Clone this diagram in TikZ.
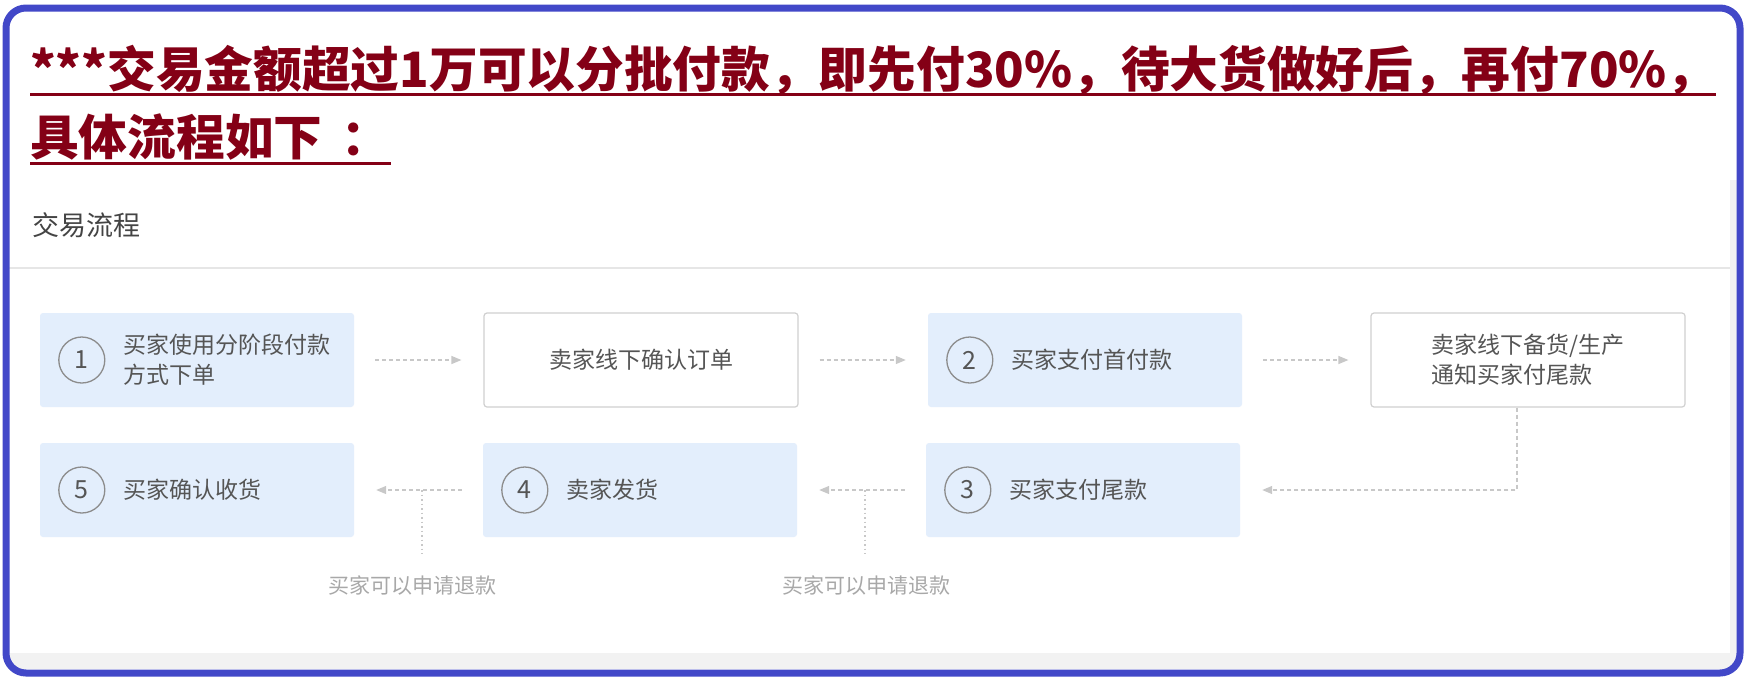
\documentclass[tikz,border=0pt]{standalone}
\usepackage{fontspec}
\newfontfamily\cjk{Noto Sans CJK SC}
\usetikzlibrary{arrows.meta}
\definecolor{frameblue}{RGB}{66,72,200}
\definecolor{titlered}{RGB}{132,0,22}
\definecolor{stepblue}{RGB}{227,238,252}
\definecolor{boxgray}{RGB}{208,208,208}
\definecolor{arrgray}{RGB}{200,200,200}
\definecolor{txtgray}{RGB}{85,85,85}
\definecolor{circgray}{RGB}{140,140,140}
\definecolor{refgray}{RGB}{168,168,168}
\definecolor{panelgray}{RGB}{242,242,242}
\definecolor{sepgray}{RGB}{230,230,230}

\begin{document}
\begin{tikzpicture}[x=1pt, y=-1pt, >={Triangle[length=10pt,width=8pt]},
  title/.style={anchor=base west, inner sep=0pt, text=titlered, font=\cjk\bfseries\fontsize{48.7}{58}\selectfont},
  uline/.style={draw=titlered, line width=3pt},
  stepbox/.style={fill=stepblue, rounded corners=3pt, minimum width=314pt, minimum height=94pt, inner sep=0pt},
  offbox/.style={draw=boxgray, fill=white, line width=1.2pt, rounded corners=3pt, minimum width=314pt, minimum height=94pt, inner sep=0pt, align=left, text=txtgray, font=\cjk\fontsize{23}{30}\selectfont},
  num/.style={circle, draw=circgray, line width=1.3pt, minimum size=46pt, inner sep=0pt, text=txtgray, font=\cjk\fontsize{25}{25}\selectfont},
  steptext/.style={anchor=west, inner sep=0pt, align=left, text=txtgray, font=\cjk\fontsize{23}{30}\selectfont},
  flow/.style={draw=arrgray, line width=1.2pt, dash pattern=on 4pt off 3pt, ->, shorten <=21pt, shorten >=22pt},
  refline/.style={draw=arrgray, line width=1.5pt, dash pattern=on 1.5pt off 3pt},
  refund/.style={inner sep=0pt, text=refgray, font=\cjk\fontsize{21}{21}\selectfont}]
\useasboundingbox (0,0) rectangle (1747,681);
\fill[white] (0,0) rectangle (1747,681);
% screenshot panel
\fill[panelgray] (9,180) rectangle (1737,669);
\fill[white] (9,180) rectangle (1730,653);
\draw[sepgray, line width=1.2pt] (9,268) -- (1730,268);

% heading
\node[title] (h1) at (30,87) {***交易金额超过1万可以分批付款，即先付30\%，待大货做好后，再付70\%，};
\node[title] (h2) at (30,155) {具体流程如下 \,：};
\draw[uline] ([yshift=-7.5pt]h1.base west) -- ([yshift=-7.5pt]h1.base east);
\draw[uline] ([yshift=-8pt]h2.base west) -- ([yshift=-8pt]h2.base east);
\node[anchor=base west, inner sep=0pt, text=txtgray!80!black, font=\cjk\fontsize{27}{27}\selectfont] (hd) at (32,235) {交易流程};

% first row
\node[stepbox] (s1) at (197,360) {};
\node[offbox] (o1) at (641,360) {卖家线下确认订单};
\node[stepbox] (s2) at (1085,360) {};
\node[offbox] (o2) at (1528,360) {卖家线下备货/生产\\通知买家付尾款};
% second row
\node[stepbox] (s5) at (197,490) {};
\node[stepbox] (s4) at (640,490) {};
\node[stepbox] (s3) at (1083,490) {};

\foreach \s/\n/\t in {s1/1/{买家使用分阶段付款\\方式下单}, s2/2/买家支付首付款, s3/3/买家支付尾款, s4/4/卖家发货, s5/5/买家确认收货}{
  \node[num] (n\n) at ([xshift=42pt]\s.west) {\n};
  \node[steptext] (t\n) at ([xshift=83pt]\s.west) {\t};
}

% connectors
\draw[flow] (s1.east) -- (o1.west);
\draw[flow] (o1.east) -- (s2.west);
\draw[flow] (s2.east) -- (o2.west);
\draw[flow, shorten <=0pt] ([xshift=-11pt]o2.south) |- (s3.east);
\draw[flow] (s3.west) -- (s4.east);
\draw[flow] (s4.west) -- (s5.east);

% refund branches
\coordinate (r1) at ([xshift=-61pt]s4.west);
\coordinate (r2) at ([xshift=-61pt]s3.west);
\coordinate (r1e) at ([yshift=-64pt]r1);
\coordinate (r2e) at ([yshift=-64pt]r2);
\draw[refline] (r1) -- (r1e);
\draw[refline] (r2) -- (r2e);
\node[refund] (l1) at (412,585) {买家可以申请退款};
\node[refund] (l2) at (866,585) {买家可以申请退款};

% frame
\draw[frameblue, line width=7pt, rounded corners=20pt] (6,8) rectangle (1740,673);
\end{tikzpicture}
\end{document}
